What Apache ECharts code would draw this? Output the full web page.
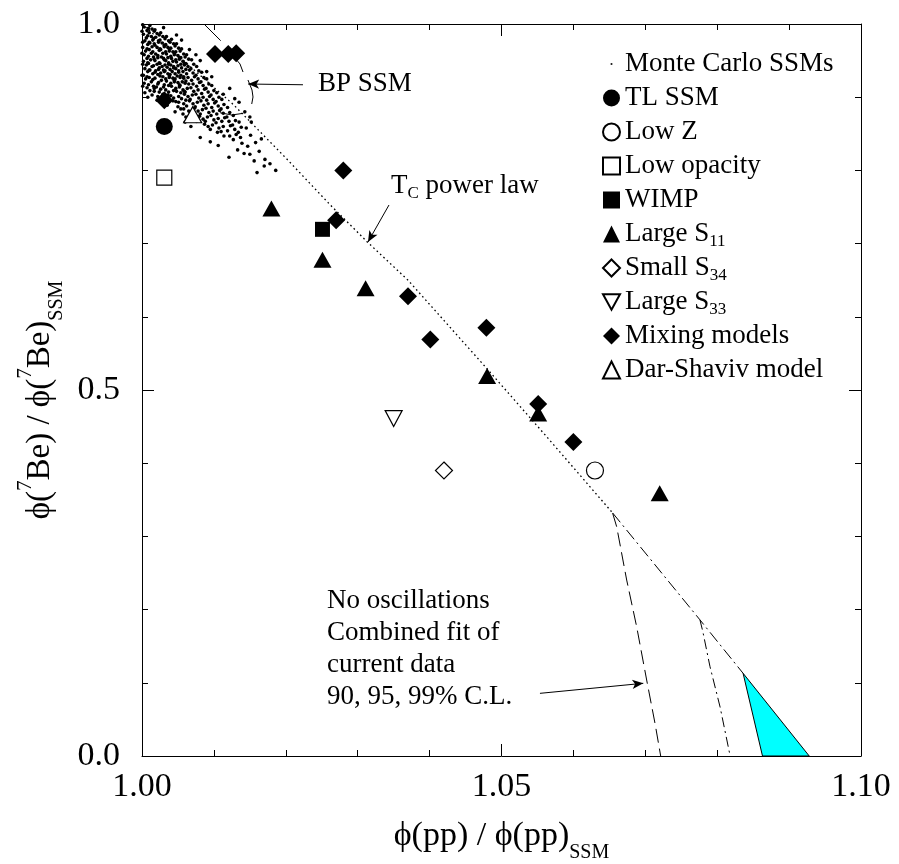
<!DOCTYPE html>
<html><head><meta charset="utf-8">
<script src="https://cdn.jsdelivr.net/npm/echarts@6/dist/echarts.min.js"></script>
<style>html,body{margin:0;padding:0;background:#fff}#c{width:899px;height:864px}</style>
</head><body><div id="c"></div><script>
const FONT = "'Liberation Serif','Times New Roman',serif";

// ---- tick labels ----
const xTickValues = [1.00, 1.05, 1.10];
const xTickLabels = ['1.00', '1.05', '1.10'];
const yTickValues = [0.0, 0.5, 1.0];
const yTickLabels = ['0.0', '0.5', '1.0'];

// ---- model points ----
const tlSSM = [[1.0031, 0.860]];
const lowZ = [[1.0630, 0.390]];
const lowOpacity = [[1.0031, 0.790]];
const wimp = [[1.0251, 0.7195]];
const largeS11 = [[1.0180, 0.748], [1.0251, 0.678], [1.0311, 0.639], [1.0480, 0.519], [1.0551, 0.468], [1.0720, 0.359]];
const smallS34 = [[1.0420, 0.390]];
const largeS33 = [[1.0350, 0.461]];
const mixingModels = [[1.01015, 0.959], [1.0120, 0.959], [1.0131, 0.960], [1.0031, 0.896], [1.0280, 0.800], [1.0270, 0.732], [1.0370, 0.628], [1.0401, 0.569], [1.0479, 0.585], [1.0551, 0.481], [1.0600, 0.429]];
const darShaviv = [[1.00705, 0.876]];

// ---- Monte Carlo SSMs (read approximately from the cloud) ----
const monteCarlo = [
[1.0003,0.996],[1.0007,0.991],[1.0002,0.986],[1.0006,0.981],[1.0004,0.977],[1.0008,0.972],[1.0001,0.968],[1.0005,0.963],[1.0003,0.958],[1.0007,0.953],[1.0002,0.949],[1.0006,0.944],[1.0004,0.939],[1.0008,0.935],[1.0002,0.930],[1.0005,0.925],[1.0003,0.919],[1.0007,0.913],[1.0004,0.906],
[1.0011,0.998],[1.0014,0.993],[1.0010,0.988],[1.0013,0.983],[1.0015,0.978],[1.0011,0.974],[1.0014,0.969],[1.0010,0.965],[1.0013,0.960],[1.0016,0.955],[1.0012,0.951],[1.0009,0.946],[1.0014,0.942],[1.0011,0.937],[1.0015,0.932],[1.0010,0.927],[1.0013,0.921],[1.0016,0.915],[1.0011,0.909],[1.0014,0.903],
[1.0018,0.992],[1.0021,0.987],[1.0019,0.982],[1.0023,0.977],[1.0017,0.973],[1.0021,0.968],[1.0024,0.964],[1.0019,0.959],[1.0022,0.954],[1.0018,0.950],[1.0021,0.945],[1.0024,0.940],[1.0019,0.936],[1.0022,0.931],[1.0018,0.926],[1.0023,0.920],[1.0020,0.914],[1.0017,0.908],[1.0022,0.901],
[1.0026,0.988],[1.0029,0.983],[1.0025,0.978],[1.0028,0.974],[1.0031,0.969],[1.0026,0.965],[1.0029,0.960],[1.0027,0.955],[1.0031,0.951],[1.0025,0.946],[1.0028,0.942],[1.0030,0.937],[1.0026,0.933],[1.0029,0.928],[1.0027,0.923],[1.0031,0.917],[1.0026,0.911],[1.0029,0.904],
[1.0034,0.983],[1.0037,0.977],[1.0033,0.972],[1.0036,0.968],[1.0038,0.963],[1.0034,0.959],[1.0036,0.954],[1.0033,0.950],[1.0037,0.945],[1.0035,0.941],[1.0032,0.936],[1.0036,0.932],[1.0038,0.927],[1.0034,0.922],[1.0037,0.916],[1.0033,0.910],[1.0036,0.903],[1.0035,0.897],
[1.0041,0.979],[1.0044,0.973],[1.0040,0.967],[1.0043,0.962],[1.0045,0.958],[1.0041,0.953],[1.0043,0.949],[1.0040,0.944],[1.0044,0.940],[1.0042,0.935],[1.0039,0.931],[1.0043,0.926],[1.0045,0.921],[1.0041,0.915],[1.0044,0.909],[1.0040,0.902],[1.0043,0.895],
[1.0048,0.973],[1.0051,0.967],[1.0047,0.962],[1.0050,0.957],[1.0052,0.952],[1.0048,0.948],[1.0050,0.943],[1.0047,0.939],[1.0051,0.934],[1.0049,0.929],[1.0046,0.925],[1.0050,0.920],[1.0052,0.914],[1.0048,0.908],[1.0051,0.901],[1.0047,0.894],[1.0050,0.887],
[1.0055,0.966],[1.0058,0.959],[1.0054,0.954],[1.0057,0.949],[1.0059,0.944],[1.0055,0.940],[1.0057,0.935],[1.0054,0.930],[1.0058,0.926],[1.0056,0.921],[1.0053,0.916],[1.0057,0.910],[1.0059,0.904],[1.0055,0.898],[1.0058,0.891],[1.0054,0.884],[1.0057,0.877],
[1.0062,0.958],[1.0065,0.952],[1.0061,0.946],[1.0064,0.942],[1.0066,0.937],[1.0062,0.932],[1.0064,0.927],[1.0061,0.922],[1.0065,0.918],[1.0063,0.912],[1.0060,0.907],[1.0064,0.901],[1.0066,0.895],[1.0062,0.888],[1.0065,0.881],[1.0061,0.873],
[1.0069,0.951],[1.0072,0.945],[1.0068,0.939],[1.0071,0.933],[1.0073,0.928],[1.0069,0.923],[1.0071,0.918],[1.0068,0.913],[1.0072,0.908],[1.0070,0.903],[1.0067,0.897],[1.0071,0.891],[1.0073,0.885],[1.0069,0.878],[1.0072,0.870],
[1.0076,0.942],[1.0079,0.936],[1.0075,0.930],[1.0078,0.925],[1.0080,0.920],[1.0076,0.915],[1.0078,0.910],[1.0075,0.904],[1.0079,0.899],[1.0077,0.893],[1.0074,0.887],[1.0078,0.881],[1.0080,0.874],[1.0076,0.867],
[1.0083,0.934],[1.0086,0.927],[1.0082,0.921],[1.0085,0.916],[1.0087,0.911],[1.0083,0.905],[1.0085,0.900],[1.0082,0.895],[1.0086,0.889],[1.0084,0.883],[1.0081,0.877],[1.0085,0.870],[1.0087,0.863],
[1.0090,0.925],[1.0093,0.918],[1.0089,0.912],[1.0092,0.907],[1.0094,0.901],[1.0090,0.896],[1.0092,0.891],[1.0089,0.885],[1.0093,0.879],[1.0091,0.873],[1.0088,0.867],[1.0092,0.860],
[1.0097,0.916],[1.0100,0.909],[1.0096,0.903],[1.0099,0.897],[1.0101,0.892],[1.0097,0.886],[1.0099,0.881],[1.0096,0.875],[1.0100,0.869],[1.0098,0.862],[1.0095,0.856],
[1.0104,0.906],[1.0107,0.900],[1.0103,0.894],[1.0106,0.888],[1.0108,0.882],[1.0104,0.877],[1.0106,0.871],[1.0103,0.865],[1.0107,0.858],[1.0105,0.852],
[1.0111,0.897],[1.0114,0.890],[1.0110,0.884],[1.0113,0.878],[1.0115,0.872],[1.0111,0.867],[1.0113,0.860],[1.0110,0.853],[1.0114,0.847],
[1.0119,0.886],[1.0122,0.879],[1.0118,0.873],[1.0121,0.867],[1.0123,0.861],[1.0119,0.854],[1.0122,0.847],
[1.0127,0.875],[1.0130,0.868],[1.0126,0.862],[1.0129,0.856],[1.0131,0.849],[1.0127,0.842],
[1.0135,0.866],[1.0138,0.859],[1.0134,0.852],[1.0137,0.845],[1.0139,0.837],
[1.0145,0.858],[1.0151,0.848],[1.0147,0.833],[1.0158,0.838],[1.0163,0.826],[1.0171,0.815],[1.0156,0.813],[1.0142,0.823],[1.0166,0.843],[1.0178,0.809],[1.0121,0.818],[1.0170,0.806],[1.0106,0.834],[1.0081,0.845],[1.0095,0.839],[1.0133,0.828],[1.0150,0.822],[1.0186,0.800],[1.0160,0.797],
[1.0048,0.985],[1.0055,0.978],[1.0081,0.950],[1.0090,0.935],[1.0097,0.928],[1.0122,0.912],[1.0113,0.904],[1.0129,0.898],[1.0135,0.893],[1.0066,0.965],[1.0030,0.995],[1.0075,0.958],[1.0143,0.880],[1.0150,0.873],[1.0152,0.866],
[1.0008,0.900],[1.0021,0.896],[1.0035,0.889],[1.0046,0.880],[1.0060,0.866],[1.0068,0.860],
[1.0009,0.994],[1.0008,0.984],[1.0010,0.975],[1.0007,0.966],[1.0009,0.956],[1.0008,0.947],[1.0010,0.937],[1.0007,0.928],[1.0009,0.917],
[1.0017,0.990],[1.0016,0.980],[1.0018,0.971],[1.0015,0.962],[1.0017,0.952],[1.0016,0.943],[1.0018,0.934],[1.0015,0.924],[1.0017,0.912],
[1.0024,0.985],[1.0023,0.975],[1.0025,0.966],[1.0022,0.957],[1.0024,0.947],[1.0023,0.938],[1.0025,0.929],[1.0022,0.918],[1.0024,0.907],
[1.0032,0.980],[1.0031,0.971],[1.0033,0.962],[1.0030,0.953],[1.0032,0.944],[1.0031,0.935],[1.0033,0.925],[1.0030,0.914],
[1.0039,0.975],[1.0038,0.966],[1.0040,0.956],[1.0037,0.947],[1.0039,0.938],[1.0038,0.929],[1.0040,0.919],[1.0037,0.907],
[1.0046,0.970],[1.0045,0.960],[1.0047,0.951],[1.0044,0.942],[1.0046,0.932],[1.0045,0.923],[1.0047,0.912],[1.0044,0.899],
[1.0053,0.963],[1.0052,0.954],[1.0054,0.945],[1.0051,0.936],[1.0053,0.927],[1.0052,0.917],[1.0054,0.906],[1.0051,0.893],
[1.0060,0.955],[1.0059,0.946],[1.0061,0.938],[1.0058,0.928],[1.0060,0.919],[1.0059,0.908],[1.0061,0.896],[1.0058,0.884],
[1.0001,0.999],[1.0000,0.990],[1.0001,0.975],[1.0000,0.960],[1.0001,0.945],[1.0000,0.930],[1.0001,0.915]
];

// ---- curves ----
const tcPowerLaw = [[1.000, 1.000], [1.0127, 0.890], [1.0201, 0.816], [1.0262, 0.7527], [1.0313, 0.7026], [1.0370, 0.650], [1.0479, 0.530], [1.0563, 0.436], [1.06546, 0.332]];
const upperBoundary = [[1.06546, 0.332], [1.0776, 0.186], [1.0836, 0.113]];
const contour99 = [[1.06546, 0.3316], [1.06602, 0.3132], [1.06741, 0.2404], [1.06880, 0.1766], [1.07019, 0.1038], [1.07135, 0.0446], [1.07214, 0.0]];
const contour95 = [[1.0776, 0.186], [1.0780, 0.170], [1.0790, 0.122], [1.0804, 0.067], [1.0818, 0.0]];
const contour90 = [[1.0836, 0.113], [1.0863, 0.0], [1.0928, 0.0]];
const bpArcTop = [[1.01293, 0.9536], [1.01363, 0.9454], [1.01405, 0.9344]];
const bpArcRight = [[1.01474, 0.9235], [1.0153, 0.9098], [1.01544, 0.9003], [1.01526, 0.8907]];
const bpArcBottom = [[1.01085, 0.8788], [1.01248, 0.8757], [1.01409, 0.8780]];
const bpLineTop = [[1.00876, 0.9986], [1.01095, 0.9772]];

// ---- annotation arrows [tail, tip] ----
const arrowBP = [[1.02239, 0.917], [1.01476, 0.918]];
const arrowTc = [[1.03435, 0.7527], [1.03143, 0.7022]];
const arrowCL = [[1.05535, 0.0856], [1.06972, 0.0993]];

const chart = echarts.init(document.getElementById('c'), null, { renderer: 'canvas' });

function xAxisDef(pos, show) {
  return {
    type: 'value', min: 1.0, max: 1.1, interval: 0.05, position: pos,
    axisLine: { show: true, onZero: false, lineStyle: { color: '#000', width: 1 } },
    axisTick: { show: true, inside: true, length: 12, lineStyle: { color: '#000', width: 1 } },
    minorTick: { show: true, splitNumber: 5, length: 6, lineStyle: { color: '#000', width: 1 } },
    splitLine: { show: false }, minorSplitLine: { show: false },
    axisLabel: {
      show: show, fontFamily: FONT, fontSize: 34, color: '#000', margin: 14,
      formatter: v => { const i = xTickValues.findIndex(t => Math.abs(t - v) < 1e-6); return i >= 0 ? xTickLabels[i] : ''; }
    }
  };
}
function yAxisDef(pos, show) {
  return {
    type: 'value', min: 0, max: 1, interval: 0.5, position: pos,
    axisLine: { show: true, onZero: false, lineStyle: { color: '#000', width: 1 } },
    axisTick: { show: true, inside: true, length: 12, lineStyle: { color: '#000', width: 1 } },
    minorTick: { show: true, splitNumber: 5, length: 6, lineStyle: { color: '#000', width: 1 } },
    splitLine: { show: false }, minorSplitLine: { show: false },
    axisLabel: {
      show: show, fontFamily: FONT, fontSize: 34, color: '#000', margin: 22,
      formatter: v => { const i = yTickValues.findIndex(t => Math.abs(t - v) < 1e-6); return i >= 0 ? yTickLabels[i] : ''; }
    }
  };
}

const xBottom = xAxisDef('bottom', true);
xBottom.name = '\u03d5(pp) / \u03d5(pp){sub|SSM}';
xBottom.nameLocation = 'middle';
xBottom.nameGap = 53;
xBottom.nameTextStyle = {
  fontFamily: FONT, fontSize: 34, color: '#000', lineHeight: 54,
  rich: { sub: { fontFamily: FONT, fontSize: 20, lineHeight: 19, verticalAlign: 'bottom', color: '#000' } }
};
const yLeft = yAxisDef('left', true);
yLeft.name = '\u03d5({sup|7}Be) / \u03d5({sup|7}Be){sub|SSM}';
yLeft.nameLocation = 'middle';
yLeft.nameGap = 72;
yLeft.nameTextStyle = {
  fontFamily: FONT, fontSize: 33, color: '#000', lineHeight: 52, padding: [0, 20, 0, 0],
  rich: {
    sup: { fontFamily: FONT, fontSize: 21, lineHeight: 21, verticalAlign: 'top', color: '#000' },
    sub: { fontFamily: FONT, fontSize: 20, lineHeight: 19, verticalAlign: 'bottom', color: '#000' }
  }
};

function lineSeries(data, type, width) {
  return {
    type: 'line', data: data, showSymbol: false, symbol: 'none', silent: true, z: 3,
    lineStyle: { color: '#000', width: width || 1, type: type, opacity: 1 }, animation: false
  };
}
function pointSeries(name, data, symbol, size, open, rotate) {
  return {
    name: name, type: 'scatter', data: data, symbol: symbol, symbolSize: size, symbolRotate: rotate || 0, z: 6,
    itemStyle: open ? { color: '#fff', borderColor: '#000', borderWidth: 1.2, opacity: 1 } : { color: '#000', borderWidth: 0, opacity: 1 },
    emphasis: { disabled: true }, animation: false
  };
}

const subNames = { 'Large S11': 'Large S{sub|11}', 'Small S34': 'Small S{sub|34}', 'Large S33': 'Large S{sub|33}' };

const option = {
  backgroundColor: '#fff',
  animation: false,
  grid: { left: 142, right: 38, top: 24, bottom: 108, outerBoundsMode: 'none', containLabel: false },
  xAxis: [xBottom, xAxisDef('top', false)],
  yAxis: [yLeft, yAxisDef('right', false)],
  legend: {
    orient: 'vertical', left: 597, top: 43, itemWidth: 17, itemHeight: 17, itemGap: 2,
    selectedMode: false,
    textStyle: {
      fontFamily: FONT, fontSize: 27, color: '#000', lineHeight: 32,
      rich: { sub: { fontFamily: FONT, fontSize: 17, lineHeight: 15, verticalAlign: 'bottom', color: '#000' } }
    },
    formatter: n => subNames[n] || n,
    data: [
      { name: 'Monte Carlo SSMs', icon: 'path://M0,0M20,20M9,9L11,9L11,11L9,11Z' },
      'TL SSM', 'Low Z', 'Low opacity', 'WIMP', 'Large S11', 'Small S34',
      { name: 'Large S33', icon: 'path://M0,0L20,0L10,18Z' },
      'Mixing models', 'Dar-Shaviv model'
    ]
  },
  series: [
    {
      name: 'Monte Carlo SSMs', type: 'scatter', data: monteCarlo, symbol: 'circle', symbolSize: 3.6, z: 2,
      itemStyle: { color: '#000', opacity: 1 }, silent: true, animation: false
    },
    {
      type: 'custom', coordinateSystem: 'cartesian2d', data: contour90, z: 2, silent: true,
      renderItem: (params, api) => {
        if (params.dataIndex !== 0) return null;
        const pts = contour90.map(p => api.coord(p));
        return { type: 'polygon', shape: { points: pts }, style: { fill: '#00ffff', stroke: '#000', lineWidth: 1 } };
      }
    },
    lineSeries(tcPowerLaw, [1.6, 3], 1.3),
    lineSeries(upperBoundary, [12, 4, 2, 4]),
    lineSeries(contour99, [14, 6]),
    lineSeries(contour95, [10, 4, 2, 4]),
    lineSeries(bpArcTop, 'solid'),
    lineSeries(bpArcRight, 'solid'),
    lineSeries(bpArcBottom, 'solid'),
    lineSeries(bpLineTop, 'solid'),
    {
      type: 'scatter', data: [], silent: true, z: 4,
      markLine: {
        silent: true, symbol: ['none', 'arrow'], symbolSize: [7, 11], animation: false,
        label: { show: false }, emphasis: { disabled: true },
        lineStyle: { color: '#000', width: 1, type: 'solid', opacity: 1 },
        data: [
          [{ coord: arrowBP[0] }, { coord: arrowBP[1] }],
          [{ coord: arrowTc[0] }, { coord: arrowTc[1] }],
          [{ coord: arrowCL[0] }, { coord: arrowCL[1] }]
        ]
      }
    },
    pointSeries('TL SSM', tlSSM, 'circle', 17, false),
    pointSeries('Low Z', lowZ, 'circle', 17, true),
    pointSeries('Low opacity', lowOpacity, 'rect', 15, true),
    pointSeries('WIMP', wimp, 'rect', 15, false),
    pointSeries('Large S11', largeS11, 'triangle', [18, 16], false),
    pointSeries('Small S34', smallS34, 'diamond', 17, true),
    pointSeries('Large S33', largeS33, 'triangle', [17, 16], true, 180),
    pointSeries('Mixing models', mixingModels, 'diamond', 18, false),
    pointSeries('Dar-Shaviv model', darShaviv, 'triangle', [18, 16], true)
  ],
  graphic: [
    { type: 'text', x: 318, y: 84, silent: true, style: { text: 'BP SSM', font: "27px " + FONT, fill: '#000', align: 'left', verticalAlign: 'middle' } },
    { type: 'text', x: 391, y: 186, silent: true, style: {
        text: 'T{sub|C} power law', font: "27px " + FONT, fill: '#000', align: 'left', verticalAlign: 'middle', lineHeight: 32,
        rich: { sub: { font: "17px " + FONT, fill: '#000', lineHeight: 15, verticalAlign: 'bottom' } } } },
    { type: 'text', x: 327, y: 601, silent: true, style: { text: 'No oscillations', font: "27px " + FONT, fill: '#000', align: 'left', verticalAlign: 'middle' } },
    { type: 'text', x: 327, y: 633, silent: true, style: { text: 'Combined fit of', font: "27px " + FONT, fill: '#000', align: 'left', verticalAlign: 'middle' } },
    { type: 'text', x: 327, y: 665, silent: true, style: { text: 'current data', font: "27px " + FONT, fill: '#000', align: 'left', verticalAlign: 'middle' } },
    { type: 'text', x: 327, y: 697, silent: true, style: { text: '90, 95, 99% C.L.', font: "27px " + FONT, fill: '#000', align: 'left', verticalAlign: 'middle' } }
  ]
};
chart.setOption(option);
</script></body></html>
